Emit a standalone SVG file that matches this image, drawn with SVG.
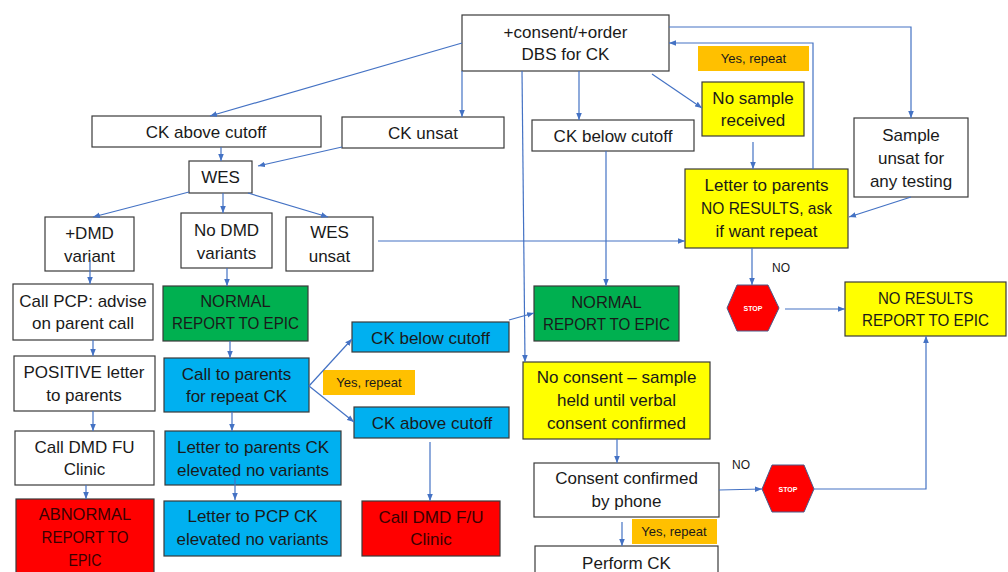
<svg xmlns="http://www.w3.org/2000/svg" width="1008" height="572" viewBox="0 0 1008 572">
<style>
.b{stroke:#3a3a3a;stroke-width:1.2}
.w{fill:#ffffff}
.y{fill:#ffff00}
.g{fill:#00b050}
.c{fill:#00b0f0}
.r{fill:#ff0000}
.o{fill:#ffc000}
text{font-family:"Liberation Sans",Arial,sans-serif;font-size:17px;fill:#1a1a1a;text-anchor:middle}
.cp{font-size:16.5px}
.rt{fill:#3a0000}
.lb{font-size:13px}
.no{font-size:12px;text-anchor:start}
.st{font-size:7px;font-weight:bold;fill:#ffffff}
.hx{fill:#ff0000;stroke:#4a5a8a;stroke-width:1}
.cn{fill:none;stroke:#4472c4;stroke-width:1.2;marker-end:url(#ah)}
</style>
<defs>
<marker id="ah" viewBox="0 0 10 10" refX="10" refY="5" markerWidth="7" markerHeight="7" orient="auto" markerUnits="userSpaceOnUse">
<path d="M0,1 L10,5 L0,9 z" fill="#4472c4"/>
</marker>
</defs>
<rect width="1008" height="572" fill="#ffffff"/>

<g id="n-consent"><rect class="b w" x="462" y="15" width="207" height="56"/><text x="565.5" y="38">+consent/+order</text><text x="565.5" y="60">DBS for CK</text></g>
<g id="n-ck-above"><rect class="b w" x="92" y="116" width="229" height="31"/><text x="206" y="138">CK above cutoff</text></g>
<g id="n-ck-unsat"><rect class="b w" x="342" y="117" width="162" height="31"/><text x="423" y="139">CK unsat</text></g>
<g id="n-ck-below"><rect class="b w" x="532" y="120" width="162" height="31"/><text x="613" y="142">CK below cutoff</text></g>
<g id="l-yes1"><rect class="o" x="698" y="46" width="111" height="25"/><text class="lb" x="753.5" y="63">Yes, repeat</text></g>
<g id="n-nosample"><rect class="b y" x="702" y="82" width="102" height="54"/><text x="753" y="104">No sample</text><text x="753" y="126">received</text></g>
<g id="n-sample-unsat"><rect class="b w" x="854" y="118" width="114" height="79"/><text x="911" y="141">Sample</text><text x="911" y="164">unsat for</text><text x="911" y="187">any testing</text></g>
<g id="n-letter-nores"><rect class="b y" x="685" y="169" width="163" height="79"/><text x="766.5" y="191">Letter to parents</text><text x="766.5" y="214" textLength="131" lengthAdjust="spacingAndGlyphs">NO RESULTS, ask</text><text x="766.5" y="237">if want repeat</text></g>
<g id="n-wes"><rect class="b w" x="189" y="161" width="63" height="32"/><text x="220.5" y="183">WES</text></g>
<g id="n-dmd-pos"><rect class="b w" x="45" y="217" width="89" height="54"/><text x="89.5" y="239">+DMD</text><text x="89.5" y="262">variant</text></g>
<g id="n-nodmd"><rect class="b w" x="181" y="213" width="91" height="55"/><text x="226.5" y="236">No DMD</text><text x="226.5" y="259">variants</text></g>
<g id="n-wes-unsat"><rect class="b w" x="286" y="217" width="87" height="54"/><text x="329.5" y="238">WES</text><text x="329.5" y="262">unsat</text></g>
<g id="n-callpcp"><rect class="b w" x="13" y="284" width="140" height="56"/><text x="83" y="307">Call PCP: advise</text><text x="83" y="329">on parent call</text></g>
<g id="n-normal1"><rect class="b g" x="163" y="286" width="145" height="55"/><text class="cp" x="235.5" y="307">NORMAL</text><text class="cp" x="235.5" y="329" textLength="127" lengthAdjust="spacingAndGlyphs">REPORT TO EPIC</text></g>
<g id="n-positive"><rect class="b w" x="14" y="356" width="141" height="55"/><text x="84" y="378">POSITIVE letter</text><text x="84" y="401">to parents</text></g>
<g id="n-callparents"><rect class="b c" x="164" y="358" width="145" height="54"/><text x="236.5" y="380">Call to parents</text><text x="236.5" y="402">for repeat CK</text></g>
<g id="n-ckbelow2"><rect class="b c" x="352" y="322" width="157" height="30"/><text x="430.5" y="344">CK below cutoff</text></g>
<g id="n-ckabove2"><rect class="b c" x="354" y="407" width="155" height="31"/><text x="432" y="429">CK above cutoff</text></g>
<g id="l-yes2"><rect class="o" x="323" y="370" width="92" height="25"/><text class="lb" x="369" y="387">Yes, repeat</text></g>
<g id="n-calldmdfu"><rect class="b w" x="15" y="431" width="139" height="54"/><text x="84.5" y="453">Call DMD FU</text><text x="84.5" y="475">Clinic</text></g>
<g id="n-letterparents"><rect class="b c" x="165" y="431" width="176" height="54"/><text x="253" y="453">Letter to parents CK</text><text x="253" y="476">elevated no variants</text></g>
<g id="n-abnormal"><rect class="b r" x="16" y="499" width="138" height="80"/><text class="rt cp" x="85" y="520">ABNORMAL</text><text class="rt cp" x="85" y="543" textLength="87" lengthAdjust="spacingAndGlyphs">REPORT TO</text><text class="rt cp" x="85" y="566" textLength="33" lengthAdjust="spacingAndGlyphs">EPIC</text></g>
<g id="n-letterpcp"><rect class="b c" x="164" y="501" width="177" height="55"/><text x="252.5" y="522">Letter to PCP CK</text><text x="252.5" y="545">elevated no variants</text></g>
<g id="n-calldmdfu2"><rect class="b r" x="362" y="501" width="138" height="55"/><text class="rt" x="431" y="523">Call DMD F/U</text><text class="rt" x="431" y="545">Clinic</text></g>
<g id="n-normal2"><rect class="b g" x="534" y="286" width="145" height="55"/><text class="cp" x="606.5" y="308">NORMAL</text><text class="cp" x="606.5" y="330" textLength="127" lengthAdjust="spacingAndGlyphs">REPORT TO EPIC</text></g>
<g id="n-stop1"><polygon class="hx" points="727,308 737,285 768,285 779,308 768,331 737,331"/><text class="st" x="753" y="310.5">STOP</text></g>
<g id="n-noresults"><rect class="b y" x="845" y="282" width="161" height="54"/><text class="cp" x="925.5" y="304" textLength="95" lengthAdjust="spacingAndGlyphs">NO RESULTS</text><text class="cp" x="925.5" y="326" textLength="127" lengthAdjust="spacingAndGlyphs">REPORT TO EPIC</text></g>
<g id="n-noconsent"><rect class="b y" x="523" y="362" width="187" height="77"/><text x="616.5" y="383">No consent – sample</text><text x="616.5" y="406">held until verbal</text><text x="616.5" y="429">consent confirmed</text></g>
<g id="n-consentphone"><rect class="b w" x="534" y="463" width="185" height="54"/><text x="626.5" y="484">Consent confirmed</text><text x="626.5" y="507">by phone</text></g>
<g id="n-stop2"><polygon class="hx" points="762,489 772,465 804,465 814,489 804,512 772,512"/><text class="st" x="788" y="491.5">STOP</text></g>
<g id="l-yes3"><rect class="o" x="632" y="519" width="85" height="25"/><text class="lb" x="674" y="536">Yes, repeat</text></g>
<g id="n-perform"><rect class="b w" x="535" y="546" width="183" height="40"/><text x="626.5" y="569">Perform CK</text></g>
<g id="l-no"><text class="no" x="772" y="272">NO</text><text class="no" x="732" y="469">NO</text></g>

<g id="connectors">
<path class="cn" d="M462,43 L210,116"/>
<path class="cn" d="M462,71 L462,117"/>
<path class="cn" d="M579,71 L579,120"/>
<path class="cn" d="M652,74 L702,108"/>
<path class="cn" d="M669,27 L911,27 L911,118"/>
<path class="cn" d="M813,169 L813,43 L669,43"/>
<path class="cn" d="M753,142 L753,169"/>
<path class="cn" d="M911,197 L849,217"/>
<path class="cn" d="M378,241 L685,241"/>
<path class="cn" d="M522,71 L525,362"/>
<path class="cn" d="M606,151 L606,286"/>
<path class="cn" d="M221,147 L221,161"/>
<path class="cn" d="M342,147 L258,166"/>
<path class="cn" d="M189,192 L93,217"/>
<path class="cn" d="M223,193 L223,213"/>
<path class="cn" d="M248,193 L328,217"/>
<path class="cn" d="M90,260 L90,284"/>
<path class="cn" d="M227,268 L227,286"/>
<path class="cn" d="M93,340 L93,356"/>
<path class="cn" d="M230,341 L230,358"/>
<path class="cn" d="M309,386 L352,339"/>
<path class="cn" d="M309,386 L354,422"/>
<path class="cn" d="M93,411 L93,431"/>
<path class="cn" d="M232,412 L232,431"/>
<path class="cn" d="M86,485 L86,499"/>
<path class="cn" d="M235,477 L235,500"/>
<path class="cn" d="M430,442 L430,501"/>
<path class="cn" d="M509,320 L534,313"/>
<path class="cn" d="M752,248 L752,285"/>
<path class="cn" d="M785,309 L845,309"/>
<path class="cn" d="M617,439 L617,463"/>
<path class="cn" d="M719,490 L762,489"/>
<path class="cn" d="M814,489 L926,489 L926,336"/>
<path class="cn" d="M622,522 L622,546"/>
</g>
</svg>
